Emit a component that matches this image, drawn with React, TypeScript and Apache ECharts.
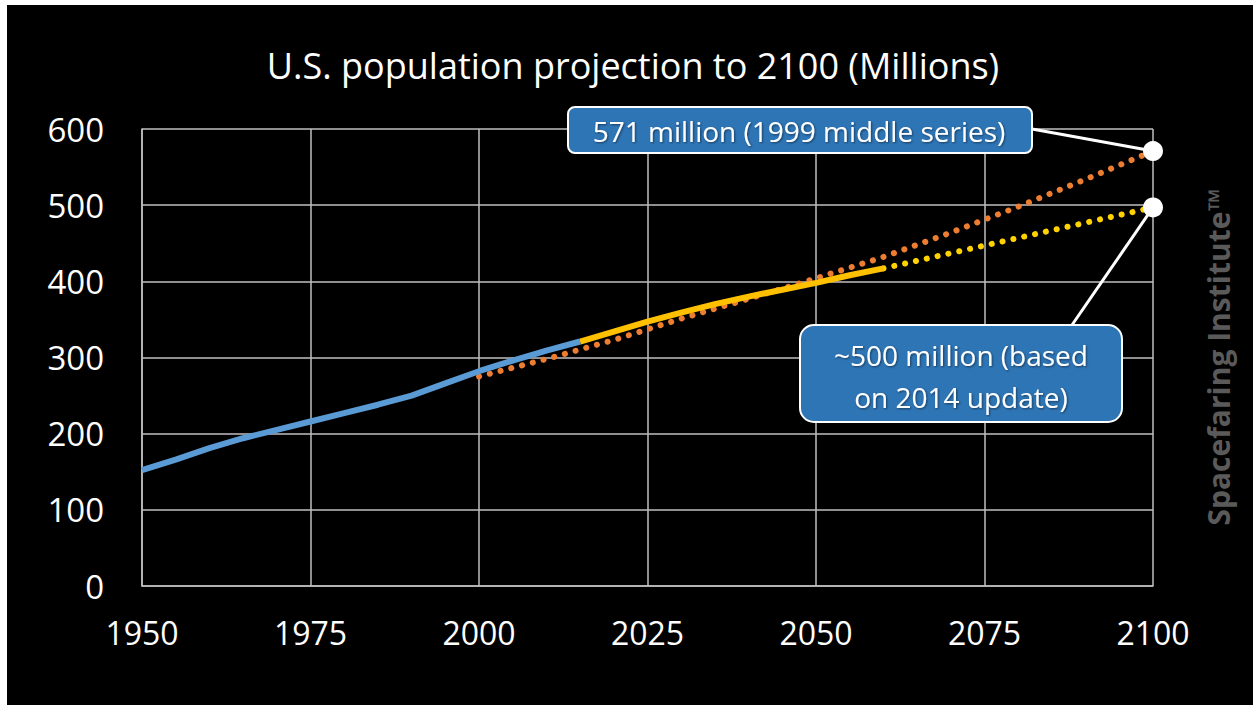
import React, { useEffect, useRef } from 'react';
import * as echarts from 'echarts';

// Historical population (millions)
const histYears = [1950, 1955, 1960, 1965, 1970, 1975, 1980, 1985, 1990, 1995, 2000, 2005, 2010, 2015];
const histPop = [152, 166, 181, 194, 205, 216, 227, 238, 250, 266, 282, 296, 309, 321];

// 2014 projection (solid part)
const proj2014Years = [2015, 2020, 2025, 2030, 2035, 2040, 2045, 2050, 2055, 2060];
const proj2014Pop = [321, 334, 347, 359, 370, 380, 389, 398, 408, 417];

// 2014 projection extended (dotted)
const ext2014Years = [2060, 2100];
const ext2014Pop = [417, 497];

// 1999 middle series (dotted)
const mid1999Years = [2000, 2010, 2020, 2030, 2040, 2050, 2060, 2070, 2080, 2090, 2100];
const mid1999Pop = [275, 298, 323, 351, 377, 404, 432, 464, 498, 534, 571];

// Callout endpoints
const endYears = [2100, 2100];
const endPop = [571, 497];

const xTicks = [1950, 1975, 2000, 2025, 2050, 2075, 2100];
const yTicks = [0, 100, 200, 300, 400, 500, 600];

const titleText = 'U.S. population projection to 2100 (Millions)';
const callout1 = '571 million (1999 middle series)';
const callout2 = '~500 million (based\non 2014 update)';
const watermark = 'Spacefaring Institute\u2122';

const zip = (xs: number[], ys: number[]) => xs.map((x, i) => [x, ys[i]]);

export default function App() {
  const ref = useRef<HTMLDivElement>(null);
  useEffect(() => {
    const chart = echarts.init(ref.current!, null, { renderer: 'svg' });
    const font = '"Open Sans", sans-serif';
    const gridColor = '#bfbfbf';
    chart.setOption({
      animation: false,
      backgroundColor: '#000000',
      title: {
        text: titleText,
        left: 628,
        top: 42,
        textAlign: 'center',
        textStyle: { color: '#ffffff', fontFamily: font, fontSize: 36, fontWeight: 'normal' },
      },
      grid: { left: 142, right: 100, top: 129, bottom: 119, containLabel: false },
      xAxis: {
        type: 'value',
        min: xTicks[0],
        max: xTicks[xTicks.length - 1],
        interval: 25,
        axisLine: { show: true, lineStyle: { color: gridColor, width: 1.5 } },
        axisTick: { show: false },
        splitLine: { show: true, lineStyle: { color: gridColor, width: 1.5 } },
        axisLabel: { color: '#ffffff', fontFamily: font, fontSize: 32, margin: 30, formatter: (v: number) => String(v) },
      },
      yAxis: {
        type: 'value',
        min: yTicks[0],
        max: yTicks[yTicks.length - 1],
        interval: 100,
        axisLine: { show: true, lineStyle: { color: gridColor, width: 1.5 } },
        axisTick: { show: false },
        splitLine: { show: true, lineStyle: { color: gridColor, width: 1.5 } },
        axisLabel: { color: '#ffffff', fontFamily: font, fontSize: 33, margin: 38 },
      },
      series: [
        {
          type: 'line',
          name: '1999 middle series',
          data: zip(mid1999Years, mid1999Pop),
          showSymbol: false,
          lineStyle: { color: '#ed7d31', width: 6, type: [0.1, 11], cap: 'round' },
          z: 2,
        },
        {
          type: 'line',
          name: '2014 projection extended',
          data: zip(ext2014Years, ext2014Pop),
          showSymbol: false,
          lineStyle: { color: '#ffd200', width: 6, type: [0.1, 11], cap: 'round' },
          z: 2,
        },
        {
          type: 'line',
          name: 'Historical',
          data: zip(histYears, histPop),
          showSymbol: false,
          lineStyle: { color: '#5b9bd5', width: 6 },
          z: 3,
        },
        {
          type: 'line',
          name: '2014 projection',
          data: zip(proj2014Years, proj2014Pop),
          showSymbol: false,
          lineStyle: { color: '#ffc000', width: 6 },
          z: 3,
        },
        {
          type: 'scatter',
          name: 'Endpoints',
          data: zip(endYears, endPop),
          symbol: 'circle',
          symbolSize: 20,
          itemStyle: { color: '#ffffff', opacity: 1 },
          z: 5,
        },
      ],
    });

    const p1 = chart.convertToPixel({ gridIndex: 0 }, [endYears[0], endPop[0]]) as number[];
    const p2 = chart.convertToPixel({ gridIndex: 0 }, [endYears[1], endPop[1]]) as number[];
    const boxFill = '#2e75b6';
    const shadow = {
      textShadowColor: 'rgba(0,0,0,0.5)',
      textShadowBlur: 2,
      textShadowOffsetX: 1,
      textShadowOffsetY: 1,
    };
    chart.setOption({
      graphic: [
        { type: 'rect', shape: { x: 0, y: 0, width: 7, height: 705 }, style: { fill: '#ffffff' }, z: 20 },
        { type: 'rect', shape: { x: 0, y: 0, width: 1253, height: 5 }, style: { fill: '#ffffff' }, z: 20 },
        { type: 'line', shape: { x1: 1032, y1: 129, x2: p1[0], y2: p1[1] }, style: { stroke: '#ffffff', lineWidth: 3 }, z: 4 },
        { type: 'line', shape: { x1: 1072, y1: 325, x2: p2[0], y2: p2[1] }, style: { stroke: '#ffffff', lineWidth: 3 }, z: 4 },
        {
          type: 'rect',
          shape: { x: 568, y: 107, width: 464, height: 46, r: 7 },
          style: { fill: boxFill, stroke: '#ffffff', lineWidth: 2 },
          z: 10,
        },
        {
          type: 'text',
          x: 799,
          y: 131,
          style: { text: callout1, fill: '#ffffff', font: `28px ${font}`, align: 'center', verticalAlign: 'middle', ...shadow },
          z: 11,
        },
        {
          type: 'rect',
          shape: { x: 800, y: 325, width: 322, height: 97, r: 14 },
          style: { fill: boxFill, stroke: '#ffffff', lineWidth: 2 },
          z: 10,
        },
        {
          type: 'text',
          x: 961,
          y: 376,
          style: { text: callout2, fill: '#ffffff', font: `28px ${font}`, lineHeight: 42, align: 'center', verticalAlign: 'middle', ...shadow },
          z: 11,
        },
        {
          type: 'text',
          x: 1218,
          y: 357,
          rotation: Math.PI / 2,
          style: { text: watermark, fill: '#5a5a5a', font: `bold 30px ${font}`, align: 'center', verticalAlign: 'middle' },
          z: 11,
        },
      ],
    });
    return () => chart.dispose();
  }, []);
  return (
    <div style={{ position: 'fixed', left: 0, top: 0, width: 1253, height: 705, background: '#000' }}>
      <div ref={ref} style={{ width: 1253, height: 705 }} />
    </div>
  );
}
